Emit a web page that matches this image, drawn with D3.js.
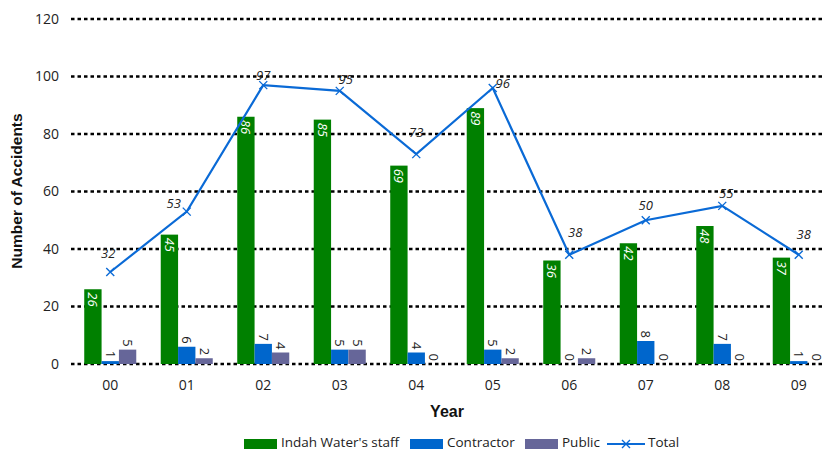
<!DOCTYPE html>
<html>
<head>
<meta charset="utf-8">
<script src="https://cdn.jsdelivr.net/npm/d3@7"></script>
<style>
  body { margin: 0; background: #fff; }
  svg { display: block; }
  .tick-label { font-family: "Open Sans", "Noto Sans", sans-serif; font-size: 14px; fill: #222; }
  .axis-title { font-family: "Liberation Sans", Arial, sans-serif; font-weight: bold; font-size: 15.5px; fill: #111; }
  .bar-label { font-family: "Open Sans", "Noto Sans", sans-serif; font-size: 13px; }
  .legend text { font-family: "Open Sans", "Noto Sans", sans-serif; font-size: 13.5px; fill: #222; }
</style>
</head>
<body>
<svg id="chart" width="825" height="452"></svg>
<script>
// data
var years = ["00", "01", "02", "03", "04", "05", "06", "07", "08", "09"];
var staff = [26, 45, 86, 85, 69, 89, 36, 42, 48, 37];
var contractor = [1, 6, 7, 5, 4, 5, 0, 8, 7, 1];
var publicCases = [5, 2, 4, 5, 0, 2, 2, 0, 0, 0];
var total = [32, 53, 97, 95, 73, 96, 38, 50, 55, 38];
var yTicks = [0, 20, 40, 60, 80, 100, 120];

var seriesNames = ["Indah Water's staff", "Contractor", "Public"];
var seriesColors = ["#008000", "#0066cc", "#666699"];
var lineColor = "#0a6ad6";

// hand tweaks for where the total labels sit (dx, dy from the marker)
var totalLabelShift = [[-2, -19], [-13, -8], [0, -10], [6, -11], [0, -22],
                       [10, -5], [6, -22], [0, -15], [4, -12], [5, -20]];

var svg = d3.select("#chart");

var x = d3.scaleBand()
    .domain(years)
    .range([72, 837])
    .paddingInner(0.32)
    .paddingOuter(0.16);

var xSub = d3.scaleBand()
    .domain(seriesNames)
    .range([0, x.bandwidth()]);

var y = d3.scaleLinear()
    .domain([0, 120])
    .range([364, 19]);

// gridlines
svg.append("g")
    .selectAll("line")
    .data(yTicks)
    .enter().append("line")
        .attr("x1", 71)
        .attr("x2", 825)
        .attr("y1", d => y(d))
        .attr("y2", d => y(d))
        .attr("stroke", "#000")
        .attr("stroke-width", 2.6)
        .attr("stroke-dasharray", "3.5,3");

// y axis labels
var yAxis = d3.axisLeft(y).tickValues(yTicks).tickSize(0).tickPadding(0);
var yg = svg.append("g")
    .attr("transform", "translate(59,0)")
    .call(yAxis);
yg.select(".domain").remove();
yg.selectAll("text").attr("class", "tick-label").attr("fill", null);

// x axis labels
var xAxis = d3.axisBottom(x).tickSize(0).tickPadding(0);
var xg = svg.append("g")
    .attr("transform", "translate(0,380)")
    .call(xAxis);
xg.select(".domain").remove();
xg.selectAll("text").attr("class", "tick-label").attr("fill", null).attr("dy", "0.71em");

// titles
svg.append("text")
    .attr("class", "axis-title")
    .attr("text-anchor", "middle")
    .attr("transform", "translate(22,191) rotate(-90)")
    .text("Number of Accidents");

svg.append("text")
    .attr("class", "axis-title")
    .attr("x", 447)
    .attr("y", 417)
    .attr("text-anchor", "middle")
    .style("font-size", "16px")
    .text("Year");

// bars
var rows = years.map(function(yr, i) {
    return {
        year: yr,
        vals: [staff[i], contractor[i], publicCases[i]].map(function(v, k) {
            return { name: seriesNames[k], k: k, v: v };
        })
    };
});

var group = svg.append("g")
    .selectAll("g")
    .data(rows)
    .enter().append("g")
        .attr("transform", d => "translate(" + x(d.year) + ",0)");

group.selectAll("rect")
    .data(d => d.vals)
    .enter().append("rect")
        .attr("x", d => xSub(d.name))
        .attr("width", xSub.bandwidth())
        .attr("y", d => y(d.v))
        .attr("height", d => y(0) - y(d.v))
        .attr("fill", d => seriesColors[d.k]);

group.selectAll("text")
    .data(d => d.vals)
    .enter().append("text")
        .attr("class", "bar-label")
        .attr("transform", function(d) {
            var cx = xSub(d.name) + xSub.bandwidth() / 2;
            var ty = d.k == 0 ? y(d.v) + 3 : y(d.v) - 3;
            return "translate(" + cx + "," + ty + ") rotate(90)";
        })
        .attr("text-anchor", d => d.k == 0 ? "start" : "end")
        .attr("dy", "0.35em")
        .attr("fill", d => d.k == 0 ? "#fff" : "#222")
        .style("font-style", d => d.k == 0 ? "italic" : "normal")
        .text(d => d.v);

// total line
var cx = d => x(d.year) + x.bandwidth() / 2;
var totalData = years.map((yr, i) => ({ year: yr, v: total[i], i: i }));

svg.append("path")
    .datum(totalData)
    .attr("fill", "none")
    .attr("stroke", lineColor)
    .attr("stroke-width", 2.2)
    .attr("d", d3.line().x(cx).y(d => y(d.v)));

var m = 4;
svg.append("g")
    .selectAll("path")
    .data(totalData)
    .enter().append("path")
        .attr("d", function(d) {
            var px = cx(d), py = y(d.v);
            return "M" + (px - m) + "," + (py - m) + "L" + (px + m) + "," + (py + m) +
                   "M" + (px - m) + "," + (py + m) + "L" + (px + m) + "," + (py - m);
        })
        .attr("stroke", lineColor)
        .attr("stroke-width", 1.4);

svg.append("g")
    .selectAll("text")
    .data(totalData)
    .enter().append("text")
        .attr("class", "bar-label")
        .attr("x", d => cx(d) + totalLabelShift[d.i][0])
        .attr("y", d => y(d.v) + totalLabelShift[d.i][1])
        .attr("dy", "0.35em")
        .attr("text-anchor", "middle")
        .attr("fill", "#222")
        .style("font-style", "italic")
        .text(d => d.v);

// legend
var legend = svg.append("g").attr("class", "legend");
var legendItems = [
    { label: seriesNames[0], color: seriesColors[0], x: 244 },
    { label: seriesNames[1], color: seriesColors[1], x: 410 },
    { label: seriesNames[2], color: seriesColors[2], x: 525 }
];
legendItems.forEach(function(it) {
    legend.append("rect")
        .attr("x", it.x).attr("y", 439)
        .attr("width", 33).attr("height", 10)
        .attr("fill", it.color);
    legend.append("text")
        .attr("x", it.x + 37).attr("y", 443)
        .attr("dy", "0.33em")
        .text(it.label);
});
legend.append("line")
    .attr("x1", 607).attr("x2", 645)
    .attr("y1", 444).attr("y2", 444)
    .attr("stroke", lineColor).attr("stroke-width", 2.2);
legend.append("path")
    .attr("d", "M622,440L630,448M622,448L630,440")
    .attr("stroke", lineColor).attr("stroke-width", 1.4);
legend.append("text")
    .attr("x", 648).attr("y", 443)
    .attr("dy", "0.33em")
    .text("Total");
</script>
</body>
</html>
